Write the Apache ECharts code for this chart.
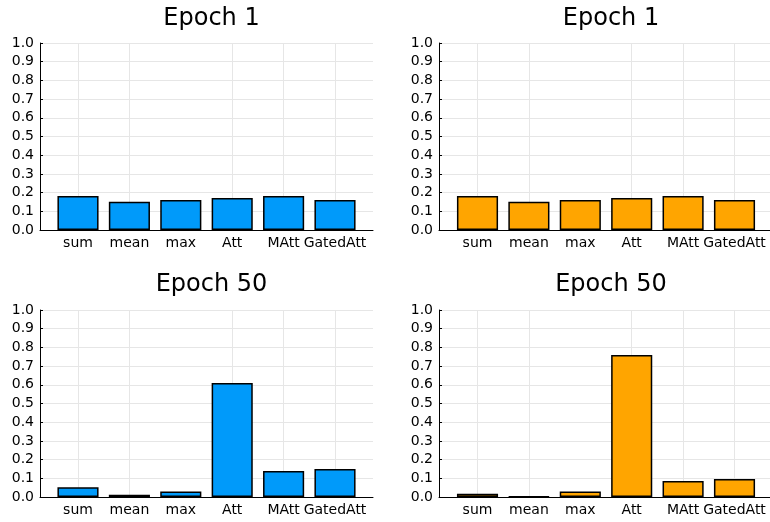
<!DOCTYPE html>
<html>
<head>
<meta charset="utf-8">
<script src="https://cdn.jsdelivr.net/npm/echarts@6/dist/echarts.min.js"></script>
<style>
  html, body { margin: 0; padding: 0; background: #fff; }
  #chart { width: 770px; height: 522px; }
</style>
</head>
<body>
<div id="chart"></div>
<script>
// Aggregator names shown on every panel
const categories = ['sum', 'mean', 'max', 'Att', 'MAtt', 'GatedAtt'];

// Attention weight per aggregator
const epoch1Left   = [0.182, 0.151, 0.160, 0.171, 0.182, 0.160];
const epoch1Right  = [0.182, 0.151, 0.160, 0.171, 0.182, 0.160];
const epoch50Left  = [0.052, 0.012, 0.029, 0.610, 0.139, 0.150];
const epoch50Right = [0.018, 0.003, 0.030, 0.759, 0.086, 0.096];

const titles = ['Epoch 1', 'Epoch 1', 'Epoch 50', 'Epoch 50'];
const panelData = [epoch1Left, epoch1Right, epoch50Left, epoch50Right];
const colors = ['#009AFA', '#FFA500', '#009AFA', '#FFA500'];

// Frame of each subplot: left, top, width, height (pixels)
const frames = [
  { left: 40,  top: 43,  width: 333, height: 187 },
  { left: 439, top: 43,  width: 334, height: 187 },
  { left: 40,  top: 310, width: 333, height: 187 },
  { left: 439, top: 310, width: 334, height: 187 }
];
// the bars sit inside the frame with a little extra margin at each end
const catStep = 51.4;

const FONT = 'DejaVu Sans';
const gridColor = '#e6e6e6';

const option = {
  animation: false,
  backgroundColor: '#ffffff',
  title: [],
  grid: [],
  xAxis: [],
  yAxis: [],
  series: []
};

frames.forEach((f, i) => {
  const outer = i * 2, inner = i * 2 + 1;
  const pad = (f.width - catStep * 6) / 2;

  option.title.push({
    text: titles[i],
    left: f.left + f.width / 2,
    top: i >= 2 ? 268 : 2,
    textAlign: 'center',
    textStyle: { fontFamily: FONT, fontWeight: 'normal', fontSize: 24, color: '#000' }
  });

  // outer frame: axis lines and horizontal grid
  option.grid.push({ left: f.left, top: f.top, width: f.width, height: f.height, containLabel: false });
  // inner area: category slots for the bars
  option.grid.push({ left: f.left + pad, top: f.top, width: catStep * 6, height: f.height, containLabel: false });

  option.xAxis.push({
    gridIndex: outer, type: 'value', min: 0, max: 1,
    axisLine: { show: true, onZero: false, lineStyle: { color: '#000', width: 1 } },
    axisTick: { show: false }, axisLabel: { show: false }, splitLine: { show: false }
  });
  option.xAxis.push({
    gridIndex: inner, type: 'category', data: categories, boundaryGap: true,
    axisLine: { show: false }, axisTick: { show: false },
    axisLabel: { fontFamily: FONT, fontSize: 14, color: '#000', margin: 6, interval: 0 },
    splitLine: { show: false }
  });

  option.yAxis.push({
    gridIndex: outer, type: 'value', min: 0, max: 1, interval: 0.1,
    axisLine: { show: true, lineStyle: { color: '#000', width: 1 } },
    axisTick: { show: true, inside: true, length: 3, lineStyle: { color: '#000' } },
    axisLabel: { fontFamily: FONT, fontSize: 14, color: '#000', margin: 6,
                 formatter: v => v.toFixed(1) },
    splitLine: { show: true, lineStyle: { color: gridColor, width: 1 } }
  });
  option.yAxis.push({
    gridIndex: inner, type: 'value', min: 0, max: 1, show: false
  });

  option.series.push({
    type: 'bar',
    xAxisIndex: inner, yAxisIndex: inner,
    data: panelData[i],
    barWidth: '80%',
    itemStyle: { color: colors[i], borderColor: '#000', borderWidth: 1.5 },
    // vertical grid lines at the category centres
    markLine: {
      silent: true, symbol: 'none', label: { show: false },
      lineStyle: { color: gridColor, type: 'solid', width: 1 },
      data: categories.map(c => ({ xAxis: c })),
      z: 0
    },
    z: 2
  });
});

const chart = echarts.init(document.getElementById('chart'), null, { renderer: 'canvas' });
chart.setOption(option);
</script>
</body>
</html>
